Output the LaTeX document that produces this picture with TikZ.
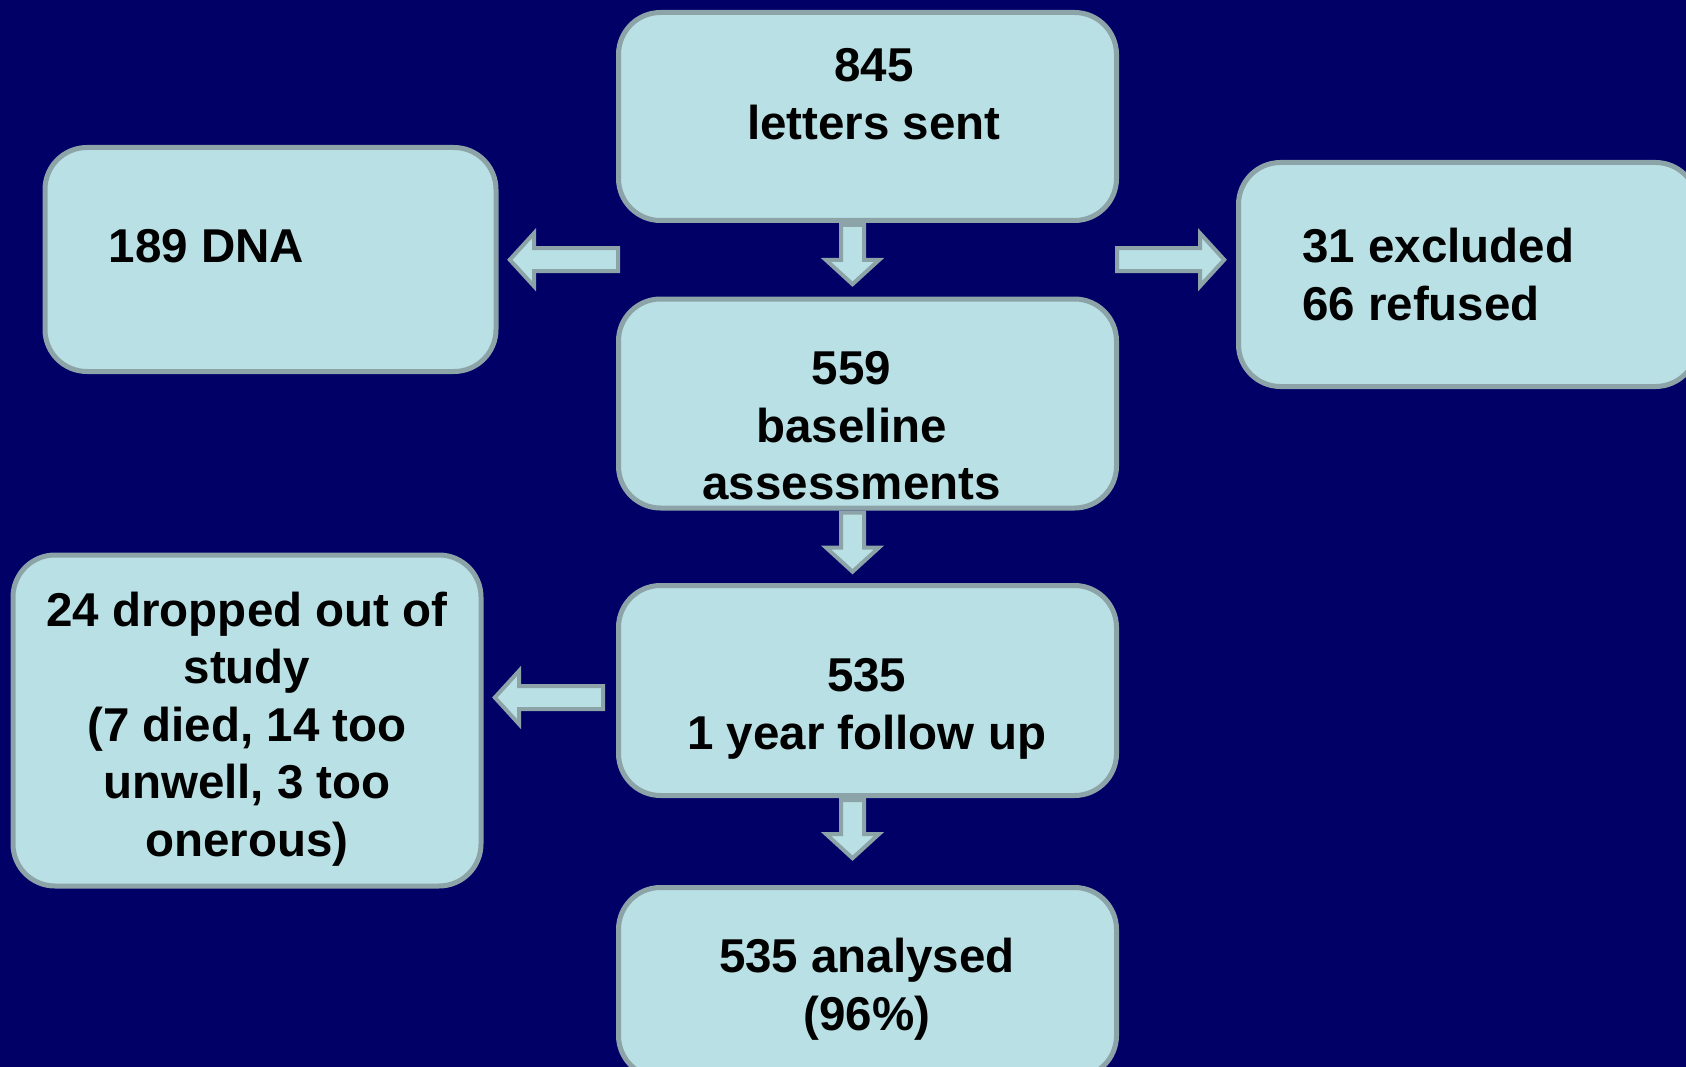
\documentclass[tikz,border=0pt]{standalone}
\usepackage{fontspec}
\setmainfont{Liberation Sans}
\usetikzlibrary{calc}

\definecolor{navybg}{RGB}{0,0,102}
\definecolor{boxfill}{RGB}{185,224,228}
\definecolor{boxedge}{RGB}{140,164,168}

\tikzset{
  flowbox/.style={draw=boxedge, fill=boxfill, line width=5pt,
    rounded corners=42pt, inner sep=0pt},
  boxtext/.style={inner sep=0pt, text=black,
    font=\bfseries\fontsize{47.5}{57.5}\selectfont},
  blockarrow/.style={draw=boxedge, fill=boxfill, line width=4pt,
    line join=miter},
  pics/blockarr/.style={code={
    \draw[blockarrow] (2,-11.5) -- (#1-27,-11.5) -- (#1-27,-26.5)
      -- (#1-2.8,0) -- (#1-27,26.5) -- (#1-27,11.5) -- (2,11.5) -- cycle;
  }}
}

\begin{document}
\begin{tikzpicture}[x=1pt, y=-1pt]
  \useasboundingbox (0,0) rectangle (1686,1067);
  \fill[navybg] (0,0) rectangle (1686,1067);
  \clip (0,0) rectangle (1686,1067);

  % boxes
  \node[flowbox, minimum width=498pt, minimum height=208pt] (top) at (867.5,116.5) {};
  \node[flowbox, minimum width=451pt, minimum height=224pt] (dna) at (270.5,259.5) {};
  \node[flowbox, minimum width=459pt, minimum height=224pt] (excl) at (1468,274.5) {};
  \node[flowbox, minimum width=498pt, minimum height=209pt] (base) at (867.5,403.5) {};
  \node[flowbox, minimum width=468pt, minimum height=331pt] (drop) at (247,720.5) {};
  \node[flowbox, minimum width=498pt, minimum height=210pt] (fu) at (867.5,690.5) {};
  \node[flowbox, minimum width=498pt, minimum height=190pt] (an) at (867.5,982.5) {};

  % texts
  \node[boxtext, align=center] (ttop) at (874,99) {\strut 845\\letters sent\strut};
  \node[boxtext, anchor=west] (tdna) at (108.6,251) {\strut 189 DNA\strut};
  \node[boxtext, align=left, anchor=west] (texcl) at (1302,280) {\strut 31 excluded\\66 refused\strut};
  \node[boxtext, align=center] (tbase) at (851.6,430.5) {\strut 559\\baseline\\assessments\strut};
  \node[boxtext, align=center] (tdrop) at (247,729.5) {\strut 24 dropped out of\\study\\(7 died, 14 too\\unwell, 3 too\\onerous)\strut};
  \node[boxtext, align=center] (tfu) at (866.7,709) {\strut 535\\1 year follow up\strut};
  \node[boxtext, align=center] (tan) at (867,990) {\strut 535 analysed\\(96\%)\strut};

  % block arrows between boxes
  \pic[rotate=-90] at ($(top.south)+(-15,0)$) {blockarr=64};
  \pic[rotate=-90] at ($(base.south)+(-15,0)$) {blockarr=64};
  \pic[rotate=-90] at ($(fu.south)+(-15,0)$) {blockarr=63};
  \pic[rotate=180] at ($($(top.south west)!0.5!(base.north west)$)+(4,0)$) {blockarr=113};
  \pic at ($($(top.south east)!0.5!(base.north east)$)+(-4,0)$) {blockarr=112};
  \pic[rotate=180] at ($(fu.west)+(-11,7)$) {blockarr=113};
\end{tikzpicture}
\end{document}
